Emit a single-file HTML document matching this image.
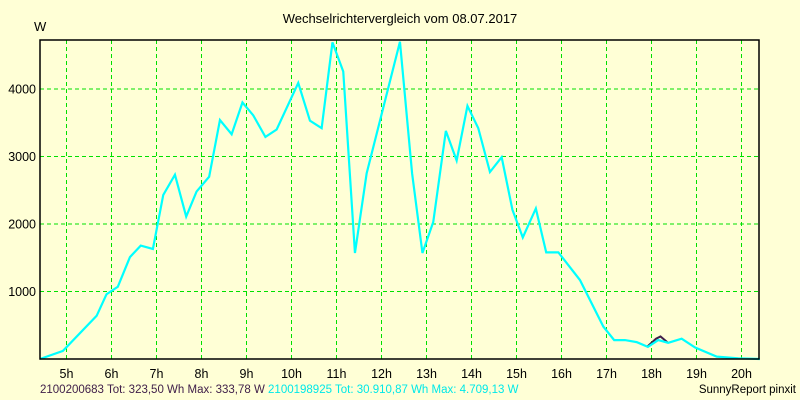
<!DOCTYPE html>
<html><head><meta charset="utf-8"><style>
html,body{margin:0;padding:0;background:#ffffd6;}
svg{display:block;font-family:"Liberation Sans",sans-serif;}
</style></head><body>
<svg id="chart" width="800" height="400" viewBox="0 0 800 400" xmlns="http://www.w3.org/2000/svg">
<rect x="0" y="0" width="800" height="400" fill="#ffffd6"/>
<text x="400" y="23" text-anchor="middle" font-size="13" fill="#000">Wechselrichtervergleich vom 08.07.2017</text>
<text x="34" y="31" font-size="13" fill="#000">W</text>
<g id="grid"></g>
<g id="ylabels"></g>
<g id="xlabels"></g>
<g id="series"></g>
<rect x="40" y="40" width="719" height="319" fill="none" stroke="#000" stroke-width="1.5"/>
<text x="40" y="393" font-size="11.5"><tspan fill="#40204a">2100200683 Tot: 323,50 Wh Max: 333,78 W </tspan><tspan fill="#00e8e8">2100198925 Tot: 30.910,87 Wh Max: 4.709,13 W</tspan></text>
<text x="796" y="393" text-anchor="end" font-size="11.5" fill="#000">SunnyReport pinxit</text>
</svg>
<script>
const yTicks = [1000, 2000, 3000, 4000];
const xTicks = [5,6,7,8,9,10,11,12,13,14,15,16,17,18,19,20];
const times = [4.41,4.92,5.67,5.89,6.14,6.41,6.65,6.92,7.15,7.41,7.66,7.89,8.17,8.41,8.67,8.91,9.15,9.42,9.67,10.15,10.41,10.67,10.91,11.15,11.41,11.67,12.41,12.68,12.91,13.15,13.43,13.67,13.91,14.15,14.41,14.67,14.91,15.14,15.43,15.66,15.93,16.41,16.93,17.17,17.41,17.67,17.92,18.15,18.37,18.67,18.97,19.45,19.93,20.41];
const watts = [0,120,640,960,1070,1510,1680,1630,2430,2730,2110,2480,2700,3540,3330,3800,3610,3290,3400,4090,3530,3420,4690,4260,1570,2750,4700,2750,1570,2030,3380,2940,3750,3420,2770,2990,2210,1800,2230,1580,1580,1170,480,280,280,250,180,280,240,300,170,35,10,0];
const times2 = [17.9,18.1,18.2,18.35];
const watts2 = [180,300,334,250];
const NS="http://www.w3.org/2000/svg";
const xs = t => 66.5 + (t - 5) * 45;
const ys = v => 359 - v * 0.0675;
const grid = document.getElementById('grid');
yTicks.forEach(v=>{
  const l=document.createElementNS(NS,'line');
  l.setAttribute('x1',40);l.setAttribute('x2',759);l.setAttribute('y1',ys(v));l.setAttribute('y2',ys(v));
  l.setAttribute('stroke','#00e000');l.setAttribute('stroke-dasharray','4,3');
  
  
  grid.appendChild(l);
  const t=document.createElementNS(NS,'text');
  t.setAttribute('x',36);t.setAttribute('y',ys(v)+4.5);t.setAttribute('text-anchor','end');t.setAttribute('font-size','12.5');
  t.textContent=v;
  
  
  document.getElementById('ylabels').appendChild(t);
});
xTicks.forEach(h=>{
  const l=document.createElementNS(NS,'line');
  l.setAttribute('x1',xs(h));l.setAttribute('x2',xs(h));l.setAttribute('y1',40);l.setAttribute('y2',359);
  l.setAttribute('stroke','#00e000');l.setAttribute('stroke-dasharray','4,3');
  
  
  grid.appendChild(l);
  const t=document.createElementNS(NS,'text');
  t.setAttribute('x',xs(h));t.setAttribute('y',378);t.setAttribute('text-anchor','middle');t.setAttribute('font-size','12.5');
  t.textContent=h+'h';
  
  
  document.getElementById('xlabels').appendChild(t);
});
const s=document.getElementById('series');
const p2=document.createElementNS(NS,'polyline');
p2.setAttribute('points',times2.map((t,i)=>xs(t)+','+ys(watts2[i])).join(' '));
p2.setAttribute('fill','none');p2.setAttribute('stroke','#40204a');p2.setAttribute('stroke-width','2');


s.appendChild(p2);
const p=document.createElementNS(NS,'polyline');
p.setAttribute('points',times.map((t,i)=>xs(t)+','+ys(watts[i])).join(' '));
p.setAttribute('fill','none');p.setAttribute('stroke','#00ffff');p.setAttribute('stroke-width','2.2');


s.appendChild(p);
</script>
</body></html>
